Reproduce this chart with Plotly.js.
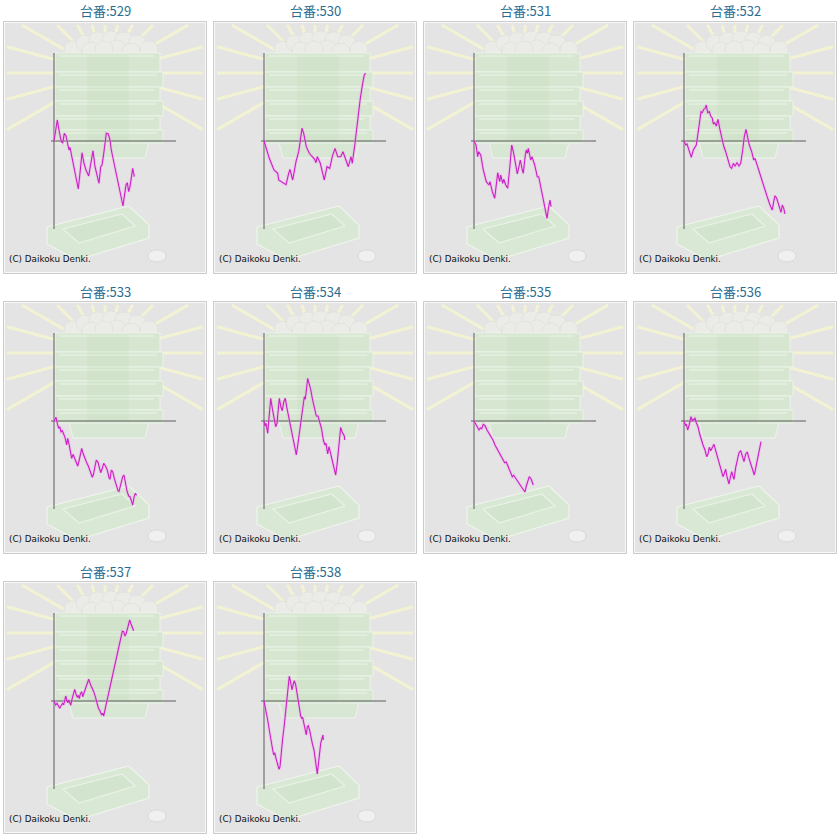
<!DOCTYPE html>
<html>
<head>
<meta charset="utf-8">
<script src="https://cdn.plot.ly/plotly-3.0.1.min.js"></script>
<style>
  body { margin: 0; background: #fff; }
</style>
</head>
<body>
<div id="chart" style="width:840px;height:840px"></div>
<script>
// machine numbers, one small slump graph each
const machineNos = ['529', '530', '531', '532', '533', '534', '535', '536', '537', '538'];

// [games, medals]
const slump529 = [[0,0],[330,2100],[530,930],[730,-70],[870,-170],[1030,770],[1200,500],[1370,-230],[1500,-900],[1600,-630],[1770,-1570],[2000,-2570],[2200,-3570],[2430,-4800],[2630,-2900],[2800,-1170],[3000,-2230],[3200,-2900],[3470,-3500],[3670,-2230],[3900,-970],[4100,-2570],[4330,-3570],[4500,-4230],[4670,-2570],[4800,-2400],[4930,-1570],[5100,-230],[5230,770],[5430,700],[5600,100],[5730,-900],[5870,-1570],[6100,-2900],[6330,-3900],[6530,-4900],[6730,-5730],[6900,-6500],[7030,-5570],[7200,-4400],[7330,-4170],[7470,-5070],[7600,-4570],[7770,-3230],[7870,-2730],[8030,-3570]];
const slump530 = [[0,0],[530,-1730],[1000,-2900],[1370,-3230],[1470,-3900],[1730,-4070],[2000,-4230],[2200,-4370],[2470,-3230],[2600,-2830],[2870,-3900],[3200,-2070],[3470,-1070],[3600,100],[3800,1270],[3970,770],[4230,-570],[4530,-1230],[4800,-1570],[5070,-1830],[5200,-2170],[5330,-1570],[5630,-2230],[5900,-3230],[6030,-3900],[6300,-2570],[6570,-2730],[6830,-1570],[7100,-730],[7370,-1570],[7670,-1570],[7900,-1070],[8170,-1830],[8430,-2570],[8700,-1570],[8830,-2230],[9100,-230],[9370,2430],[9630,4270],[9900,5930],[10030,6600],[10170,6770]];
const slump531 = [[0,0],[200,-400],[370,-1570],[470,-1070],[670,-1400],[930,-2900],[1230,-4070],[1500,-4400],[1600,-4070],[1830,-5070],[2070,-5730],[2270,-3570],[2370,-3170],[2570,-4070],[2670,-3400],[2870,-4230],[2970,-3830],[3170,-4400],[3370,-4730],[3570,-2730],[3770,-400],[3970,-1230],[4230,-2570],[4330,-3300],[4530,-2400],[4630,-1900],[4830,-2900],[4930,-3230],[5130,-1400],[5230,-900],[5330,-1230],[5430,-730],[5670,-1900],[5800,-1570],[6070,-2400],[6330,-3570],[6470,-3570],[6700,-4900],[6970,-6070],[7200,-7230],[7300,-7730],[7500,-6400],[7600,-5900],[7700,-6570]];
const slump532 = [[0,0],[170,-400],[300,-300],[470,-830],[730,-1630],[930,-900],[1100,-630],[1230,-400],[1400,770],[1600,2270],[1700,2930],[1830,2830],[1970,3170],[2100,3230],[2230,3600],[2370,2830],[2530,2930],[2670,2500],[2830,2270],[2930,1700],[3070,1830],[3230,1500],[3400,2170],[3570,1270],[3770,270],[3970,-500],[4170,-1070],[4370,-1730],[4600,-2570],[4770,-2730],[4930,-2230],[5100,-2500],[5300,-2170],[5500,-2500],[5670,-2230],[5870,-900],[6030,430],[6200,1170],[6370,430],[6530,-400],[6770,-1070],[6970,-1900],[7100,-1730],[7270,-2300],[7500,-2900],[7700,-3730],[7930,-4400],[8170,-5070],[8370,-5730],[8600,-6400],[8830,-6900],[8970,-6070],[9100,-5470],[9270,-5730],[9430,-6170],[9600,-6830],[9700,-7130],[9830,-6400],[9970,-6730],[10100,-7300]];
const slump533 = [[0,0],[200,370],[330,-230],[470,-730],[570,-570],[700,-1070],[830,-970],[970,-1300],[1100,-1630],[1270,-2400],[1370,-1730],[1500,-2300],[1630,-3070],[1770,-3730],[1900,-3330],[2070,-3730],[2230,-4230],[2370,-4500],[2500,-4000],[2630,-3400],[2770,-2730],[2900,-3230],[3030,-3630],[3230,-4070],[3430,-4500],[3630,-5070],[3830,-5630],[3930,-5400],[4070,-4570],[4230,-3900],[4400,-4130],[4530,-4630],[4670,-5170],[4800,-4830],[4970,-4230],[5130,-4470],[5330,-4900],[5500,-5670],[5600,-5830],[5730,-4900],[5870,-5070],[6030,-5730],[6200,-6300],[6400,-6970],[6500,-7030],[6670,-6230],[6870,-5570],[7000,-5400],[7130,-6170],[7300,-7000],[7470,-7500],[7600,-7570],[7770,-8070],[7870,-8400],[8000,-7630],[8130,-7230],[8270,-7430]];
const slump534 = [[0,0],[100,-500],[200,-230],[370,-1230],[500,270],[670,2270],[830,1270],[1000,270],[1170,-570],[1300,-230],[1430,1600],[1530,2270],[1700,1370],[1830,1030],[1970,1900],[2130,2270],[2300,1270],[2500,370],[2700,-570],[2900,-1730],[3070,-2570],[3230,-3400],[3400,-2230],[3570,-900],[3730,370],[3900,1930],[4030,2430],[4130,2170],[4270,3770],[4370,4270],[4500,3770],[4670,3170],[4830,2270],[5030,1370],[5230,500],[5400,500],[5570,-230],[5770,-830],[5930,-1900],[6100,-2400],[6200,-2230],[6370,-3300],[6500,-2570],[6700,-3400],[6900,-4230],[7030,-4830],[7170,-5400],[7300,-4400],[7430,-2900],[7570,-1570],[7670,-630],[7800,-1070],[7930,-1400],[8030,-1500],[8070,-1900]];
const slump535 = [[0,0],[170,-330],[330,-630],[500,-900],[630,-700],[770,-770],[930,-330],[1100,-470],[1300,-900],[1500,-1230],[1700,-1500],[1900,-1900],[2100,-2400],[2300,-2770],[2500,-3170],[2700,-3570],[2900,-3970],[3070,-4170],[3230,-4100],[3430,-4570],[3630,-5070],[3830,-5570],[3970,-5430],[4170,-5770],[4370,-5970],[4570,-6330],[4770,-6630],[4970,-6970],[5100,-7100],[5230,-6500],[5400,-5900],[5530,-5570],[5700,-5770],[5830,-6170],[5930,-6400]];
const slump536 = [[0,0],[170,-470],[230,-300],[370,-900],[530,-330],[700,430],[830,30],[970,170],[1100,270],[1230,-170],[1400,-570],[1570,-1300],[1730,-1970],[1900,-2400],[2100,-2900],[2270,-3570],[2400,-3300],[2530,-2630],[2670,-2970],[2830,-2570],[3000,-2330],[3170,-2970],[3370,-3730],[3570,-4400],[3770,-5170],[3900,-5570],[4030,-5230],[4170,-4830],[4300,-5570],[4500,-6300],[4630,-5670],[4770,-5070],[4900,-5570],[5000,-5830],[5170,-4630],[5330,-3970],[5500,-3170],[5670,-2970],[5830,-3470],[6000,-4070],[6170,-3300],[6330,-3100],[6500,-3730],[6700,-4300],[6870,-4830],[7030,-5400],[7200,-4570],[7370,-3570],[7530,-2970],[7700,-2070]];
const slump537 = [[0,0],[170,-400],[300,-230],[430,-500],[570,-730],[700,-470],[870,-230],[970,-400],[1070,100],[1170,500],[1270,100],[1370,-170],[1470,100],[1570,-230],[1670,-430],[1800,170],[1930,830],[2070,1170],[2200,700],[2330,370],[2430,570],[2530,230],[2630,700],[2770,930],[2870,430],[3000,830],[3130,1270],[3270,1700],[3370,2030],[3470,2170],[3630,1700],[3800,1370],[3970,930],[4130,430],[4270,-230],[4430,-670],[4600,-1000],[4770,-1400],[4870,-1230],[4970,-1500],[5130,-730],[5300,30],[5470,930],[5630,1600],[5800,2270],[5970,3100],[6130,3700],[6300,4430],[6430,5170],[6570,5930],[6700,6500],[6830,6970],[6970,6930],[7100,6500],[7230,6770],[7370,7430],[7470,7900],[7570,8100],[7700,7700],[7830,7370],[7970,7030]];
const slump538 = [[0,0],[200,-900],[370,-1900],[530,-2900],[700,-4070],[870,-4900],[970,-5400],[1070,-5170],[1200,-5730],[1330,-6230],[1500,-6830],[1600,-6570],[1700,-5230],[1870,-3730],[2030,-2400],[2200,-900],[2330,430],[2430,1600],[2530,2500],[2670,1830],[2800,1100],[2930,1700],[3030,2030],[3170,1600],[3330,500],[3500,-570],[3670,-1500],[3770,-1730],[3870,-1630],[4000,-2300],[4130,-2900],[4230,-3400],[4330,-2570],[4430,-2470],[4570,-2970],[4700,-3730],[4830,-4230],[5000,-4900],[5130,-5730],[5270,-6830],[5330,-7300],[5430,-6400],[5530,-5230],[5670,-4230],[5800,-3730],[5900,-3400],[5930,-3900]];

const slumps = [slump529, slump530, slump531, slump532, slump533, slump534, slump535, slump536, slump537, slump538];

const PAGE = 840;
const BOX_W = 204, BOX_H = 253;   // one panel, px
const ZERO_X = 51, ZERO_Y = 120;  // where the axes cross inside a panel
const UNIT = 100;                 // games (or medals) per px
const AXIS_X_END = 12200, AXIS_Y_HALF = 8800;

const shapes = [];
const annotations = [];
const traces = [];
const layout = {
  width: PAGE,
  height: PAGE,
  margin: { l: 0, r: 0, t: 0, b: 0 },
  paper_bgcolor: '#ffffff',
  plot_bgcolor: 'rgba(0,0,0,0)',
  showlegend: false,
  hovermode: false,
};

function paperShape(left, top, s) {
  // s is in panel px, turn it into paper units
  const out = Object.assign({ xref: 'paper', yref: 'paper', layer: 'below' }, s);
  if (s.path) {
    out.path = s.path.replace(/(-?[\d.]+),(-?[\d.]+)/g, (m, a, b) =>
      ((left + +a) / PAGE).toFixed(5) + ',' + (1 - (top + +b) / PAGE).toFixed(5));
  } else {
    out.x0 = (left + s.x0) / PAGE; out.x1 = (left + s.x1) / PAGE;
    out.y0 = 1 - (top + s.y0) / PAGE; out.y1 = 1 - (top + s.y1) / PAGE;
  }
  shapes.push(out);
}

function drawBackdrop(left, top) {
  // panel and frame
  paperShape(left, top, { type: 'rect', x0: 0.5, y0: 0.5, x1: BOX_W - 0.5, y1: BOX_H - 0.5,
    fillcolor: '#e4e4e4', line: { color: '#cbcbcb', width: 1 } });
  paperShape(left, top, { type: 'rect', x0: 1.5, y0: 1.5, x1: BOX_W - 1.5, y1: BOX_H - 1.5,
    line: { color: '#f8f8f8', width: 1 } });

  // rays
  const cx = 102, cy = 52;
  for (let a = -30; a <= 210; a += 15) {
    const dx = Math.cos(a * Math.PI / 180), dy = -Math.sin(a * Math.PI / 180);
    const tx = dx > 0 ? (BOX_W - 4 - cx) / dx : dx < 0 ? (4 - cx) / dx : 1e9;
    const ty = dy > 0 ? (BOX_H - 4 - cy) / dy : dy < 0 ? (4 - cy) / dy : 1e9;
    const t = Math.min(tx, ty);
    paperShape(left, top, { type: 'line', x0: cx + dx * 40, y0: cy + dy * 40, x1: cx + dx * t, y1: cy + dy * t,
      line: { color: 'rgba(246,246,208,0.85)', width: 3 } });
  }

  // balls on top of the box stack
  const balls = [[70, 28], [82, 22], [95, 19], [108, 18], [121, 19], [134, 22], [146, 28], [88, 29], [114, 27], [128, 30], [101, 28]];
  balls.forEach(([bx, by]) => paperShape(left, top, { type: 'circle', x0: bx - 9, y0: by - 8, x1: bx + 9, y1: by + 8,
    fillcolor: '#ebebe8', line: { color: '#dddcd6', width: 0.6 } }));

  // stacked boxes
  paperShape(left, top, { type: 'path', path: 'M 66,121 L 146,121 L 142,137 L 70,137 Z',
    fillcolor: '#d8e7d3', line: { color: '#edf4ea', width: 1 } });
  const layers = [[32, 51], [51, 66], [66, 80], [80, 95], [95, 109], [109, 122]];
  layers.forEach(([y0, y1], j) => {
    const r = j % 2 ? 160 : 157;
    paperShape(left, top, { type: 'rect', x0: 52, y0: y0, x1: r, y1: y1,
      fillcolor: '#d6e6d0', line: { color: '#ebf3e8', width: 1 } });
    paperShape(left, top, { type: 'line', x0: 56, y0: y0 + 3, x1: r - 6, y1: y0 + 3,
      line: { color: '#e6f0e2', width: 1.5 } });
  });
  paperShape(left, top, { type: 'rect', x0: 84, y0: 34, x1: 126, y1: 120,
    fillcolor: 'rgba(195,222,188,0.25)', line: { width: 0 } });

  // tray at the bottom
  paperShape(left, top, { type: 'path', path: 'M 44,206 L 126,185 L 146,204 L 146,217 L 74,239 L 44,223 Z',
    fillcolor: '#d9e8d4', line: { color: '#edf5eb', width: 1.2 } });
  paperShape(left, top, { type: 'path', path: 'M 60,208 L 119,193 L 132,205 L 76,222 Z',
    fillcolor: '#d3e4ce', line: { color: '#e9f2e6', width: 1.2 } });

  // medal
  paperShape(left, top, { type: 'circle', x0: 145, y0: 229, x1: 163, y1: 241,
    fillcolor: '#f0f0f0', line: { color: '#d4d4d4', width: 0.8 } });
}

machineNos.forEach((no, i) => {
  const col = i % 4, row = Math.floor(i / 4);
  const left = 3 + 210 * col, top = 21 + 280 * row;
  const n = i === 0 ? '' : String(i + 1);

  const hidden = { showgrid: false, zeroline: false, showticklabels: false, ticks: '', showline: false, fixedrange: true };
  layout['xaxis' + n] = Object.assign({
    domain: [left / PAGE, (left + BOX_W) / PAGE],
    range: [-ZERO_X * UNIT, (BOX_W - ZERO_X) * UNIT],
    anchor: 'y' + n,
  }, hidden);
  layout['yaxis' + n] = Object.assign({
    domain: [1 - (top + BOX_H) / PAGE, 1 - top / PAGE],
    range: [-(BOX_H - ZERO_Y) * UNIT, ZERO_Y * UNIT],
    anchor: 'x' + n,
  }, hidden);

  drawBackdrop(left, top);

  // axis cross
  const axisLine = { color: '#5a5a5a', width: 1 };
  shapes.push({ type: 'line', xref: 'x' + n, yref: 'y' + n, layer: 'below',
    x0: 0, x1: 0, y0: -AXIS_Y_HALF, y1: AXIS_Y_HALF, line: axisLine });
  shapes.push({ type: 'line', xref: 'x' + n, yref: 'y' + n, layer: 'below',
    x0: -3 * UNIT, x1: AXIS_X_END, y0: 0, y1: 0, line: axisLine });

  const games = slumps[i].map(p => p[0]);
  const medals = slumps[i].map(p => p[1]);
  traces.push({
    x: games, y: medals, xaxis: 'x' + n, yaxis: 'y' + n,
    type: 'scatter', mode: 'lines',
    line: { color: 'rgba(238,160,236,0.4)', width: 3 },
    hoverinfo: 'skip',
  });
  traces.push({
    x: games, y: medals, xaxis: 'x' + n, yaxis: 'y' + n,
    type: 'scatter', mode: 'lines',
    line: { color: '#cc1fc6', width: 1.1 },
    hoverinfo: 'skip',
  });

  annotations.push({
    xref: 'paper', yref: 'paper',
    x: (left + BOX_W / 2) / PAGE, y: 1 - (top - 10) / PAGE,
    xanchor: 'center', yanchor: 'middle', showarrow: false,
    text: '台番:' + no,
    font: { family: '"Noto Sans CJK JP", "Noto Sans", sans-serif', size: 13, color: '#2a6d93' },
  });
  annotations.push({
    xref: 'paper', yref: 'paper',
    x: (left + 4) / PAGE, y: 1 - (top + 238) / PAGE,
    xanchor: 'left', yanchor: 'middle', showarrow: false,
    text: '(C) Daikoku Denki.',
    font: { family: '"DejaVu Sans", Verdana, sans-serif', size: 8.8, color: '#111111' },
  });
});

layout.shapes = shapes;
layout.annotations = annotations;

Plotly.newPlot('chart', traces, layout, { displayModeBar: false, staticPlot: true });
</script>
</body>
</html>
